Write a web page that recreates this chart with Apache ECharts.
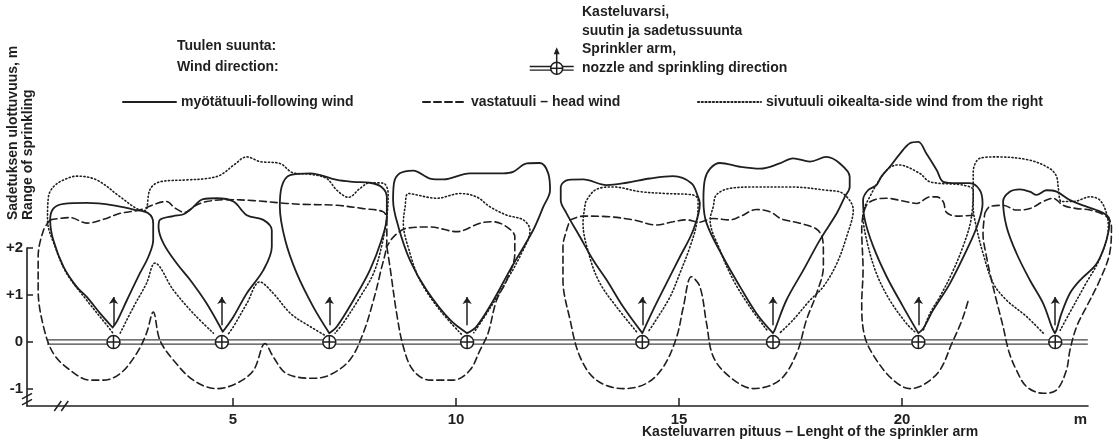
<!DOCTYPE html>
<html>
<head>
<meta charset="utf-8">
<script src="https://cdn.jsdelivr.net/npm/echarts@6/dist/echarts.min.js"></script>
<style>
  html, body { margin: 0; padding: 0; background: #fff; }
  #chart { width: 1119px; height: 447px; }
</style>
</head>
<body>
<div id="chart"></div>
<script>
// Sprinkler nozzle positions along the arm (m)
const nozzles = [2.32, 4.75, 7.16, 10.25, 14.18, 17.11, 20.37, 23.44];
// Sprinkling direction arrow above each nozzle (from, to) in m
const arrowSpan = [0.36, 0.96];
// Sprinkler arm extent (m) and half gap between its two rails
const armStart = 0.83, armEnd = 24.17, armRail = 0.045;

// Axis tick values
const xTicks = [5, 10, 15, 20];
const yTicks = [-1, 0, 1, 2];

// Following wind — range outline of each nozzle [x m, y m]
const following1 = [[2.30,0.31],[2.02,0.61],[1.72,0.96],[1.49,1.18],[1.20,1.60],[0.97,2.17],[0.90,2.60],[0.97,2.84],[1.20,2.94],[1.72,2.96],[2.32,2.91],[2.77,2.82],[3.10,2.74],[3.21,2.53],[3.21,2.17],[3.10,1.81],[2.91,1.46],[2.62,0.89],[2.39,0.43],[2.30,0.31]];
const following2 = [[4.77,0.22],[4.41,0.82],[4.04,1.32],[3.74,1.67],[3.44,2.10],[3.33,2.45],[3.36,2.60],[3.66,2.68],[3.89,2.72],[4.07,2.84],[4.33,3.04],[4.63,3.06],[5.01,2.99],[5.31,2.70],[5.68,2.60],[5.87,2.38],[5.87,2.03],[5.68,1.53],[5.31,1.04],[5.01,0.54],[4.77,0.22]];
const following3 = [[7.16,0.19],[6.80,0.75],[6.43,1.46],[6.17,2.17],[6.05,2.88],[6.09,3.30],[6.28,3.55],[6.73,3.59],[7.33,3.45],[7.70,3.41],[8.07,3.39],[8.33,3.30],[8.45,3.09],[8.45,2.67],[8.33,2.17],[8.07,1.53],[7.70,0.89],[7.33,0.33],[7.16,0.19]];
const following4 = [[10.25,0.19],[9.87,0.47],[9.34,1.11],[8.97,1.74],[8.71,2.45],[8.59,3.02],[8.61,3.38],[8.74,3.59],[9.04,3.65],[9.42,3.48],[9.72,3.46],[10.31,3.59],[11.06,3.59],[11.28,3.62],[11.59,3.80],[11.88,3.81],[12.07,3.59],[12.11,3.23],[11.96,2.88],[11.73,2.38],[11.21,1.53],[10.84,0.89],[10.46,0.33],[10.25,0.19]];
const following5 = [[14.18,0.19],[13.75,0.75],[13.38,1.32],[13.08,1.74],[12.78,2.24],[12.48,2.74],[12.35,3.02],[12.35,3.30],[12.52,3.45],[12.85,3.46],[13.38,3.34],[13.83,3.39],[14.35,3.48],[14.87,3.53],[15.28,3.38],[15.43,3.09],[15.47,2.95],[15.32,2.38],[15.02,1.81],[14.72,1.25],[14.42,0.68],[14.18,0.19]];
const following6 = [[17.11,0.19],[16.74,0.61],[16.37,1.18],[15.99,1.81],[15.62,2.53],[15.55,3.02],[15.58,3.45],[15.70,3.69],[15.92,3.81],[16.37,3.73],[16.82,3.69],[17.26,3.80],[17.56,3.91],[17.94,3.84],[18.31,3.94],[18.61,3.80],[18.83,3.52],[18.83,3.30],[18.72,3.09],[18.54,2.74],[18.16,2.17],[17.79,1.53],[17.41,0.89],[17.15,0.26],[17.11,0.19]];
const following7 = [[20.37,0.19],[20.03,0.75],[19.66,1.39],[19.36,2.03],[19.17,2.60],[19.13,3.02],[19.24,3.23],[19.43,3.34],[19.54,3.52],[19.73,3.73],[19.96,4.01],[20.18,4.23],[20.37,4.26],[20.55,4.01],[20.78,3.66],[20.93,3.41],[21.23,3.38],[21.52,3.38],[21.75,3.23],[21.81,2.95],[21.71,2.53],[21.50,2.05],[21.08,1.25],[20.70,0.68],[20.48,0.29],[20.37,0.19]];
const following8 = [[23.43,0.19],[23.36,0.33],[23.17,0.82],[22.87,1.32],[22.57,1.89],[22.35,2.45],[22.27,2.99],[22.42,3.20],[22.65,3.25],[22.87,3.20],[23.02,3.13],[23.24,3.23],[23.47,3.20],[23.77,3.02],[24.06,2.91],[24.36,2.81],[24.59,2.70],[24.66,2.60],[24.59,2.17],[24.37,1.67],[24.00,1.32],[23.77,1.04],[23.58,0.61],[23.47,0.26],[23.43,0.19]];

// Head wind — range outlines [x m, y m]
const headA = [[0.90,2.60],[1.35,2.65],[1.72,2.53],[2.09,2.61],[2.47,2.74],[2.91,2.81],[3.29,2.95],[3.51,2.99],[3.70,2.85],[3.92,2.76],[4.15,2.90],[4.41,2.99],[4.86,3.03],[5.46,3.01],[6.20,2.95],[6.58,2.93],[7.33,2.91],[7.92,2.84],[8.37,2.77],[8.45,2.60],[8.45,2.17],[8.30,1.46],[8.15,0.89],[7.92,0.19],[7.62,-0.38],[7.17,-0.70],[6.80,-0.77],[6.20,-0.67],[5.90,-0.31],[5.72,-0.03],[5.46,-0.60],[5.08,-0.88],[4.63,-0.99],[4.11,-0.81],[3.66,-0.38],[3.36,0.04],[3.21,0.64],[3.06,0.19],[2.84,-0.24],[2.47,-0.67],[2.09,-0.81],[1.79,-0.81],[1.35,-0.60],[0.97,-0.24],[0.75,0.33],[0.63,1.11],[0.63,1.81],[0.75,2.38],[0.90,2.60]];
const headB = [[8.45,2.03],[8.52,1.60],[8.67,0.61],[8.82,-0.10],[9.04,-0.60],[9.42,-0.81],[9.94,-0.81],[10.31,-0.60],[10.54,-0.17],[10.72,0.19],[10.91,0.89],[11.14,1.32],[11.32,1.89],[11.32,2.24],[11.14,2.45],[10.84,2.56],[10.54,2.53],[10.02,2.35],[9.42,2.45],[8.89,2.42],[8.60,2.24],[8.45,2.03]];
const headC = [[12.56,2.60],[12.85,2.68],[13.38,2.67],[13.98,2.60],[14.50,2.49],[14.87,2.56],[15.17,2.60],[15.45,2.55],[15.77,2.63],[16.14,2.60],[16.37,2.67],[16.74,2.82],[17.05,2.77],[17.30,2.62],[17.71,2.53],[18.09,2.40],[18.22,2.20],[18.24,1.89],[18.24,1.60],[18.09,1.04],[17.86,0.47],[17.64,-0.24],[17.26,-0.81],[16.67,-0.99],[16.14,-0.74],[15.77,-0.31],[15.62,0.40],[15.47,1.18],[15.28,1.39],[15.10,0.75],[14.95,0.11],[14.65,-0.53],[14.27,-0.88],[13.75,-0.99],[13.15,-0.81],[12.78,-0.31],[12.56,0.47],[12.40,1.32],[12.40,2.03],[12.48,2.38],[12.56,2.60]];
const headD = [[21.60,2.70],[21.23,2.68],[21.00,2.76],[20.93,2.98],[20.78,3.09],[20.63,3.09],[20.33,2.95],[20.03,3.00],[19.66,3.06],[19.43,3.04],[19.20,2.90],[19.10,2.38],[19.13,1.53],[19.10,0.82],[19.17,0.11],[19.43,-0.38],[19.81,-0.81],[20.18,-0.99],[20.48,-0.91],[20.85,-0.60],[21.12,-0.03],[21.35,0.47],[21.49,0.89]];
const headE = [[21.86,2.74],[21.97,2.88],[22.27,2.91],[22.57,2.81],[22.87,2.84],[23.17,2.99],[23.39,3.06],[23.62,2.91],[23.92,2.84],[24.22,2.81],[24.59,2.67],[24.70,2.45],[24.66,1.89],[24.44,1.32],[24.14,0.75],[23.92,0.33],[23.77,-0.17],[23.69,-0.60],[23.47,-1.02],[23.17,-1.09],[22.80,-0.95],[22.57,-0.60],[22.40,-0.20],[22.27,0.33],[22.12,0.89],[22.01,1.32],[21.90,1.81],[21.82,2.31],[21.86,2.74]];

// Side wind from the right — range outlines [x m, y m]
const sideA = [[2.30,0.20],[2.17,0.36],[1.72,0.89],[1.27,1.46],[1.01,2.03],[0.84,2.60],[0.86,3.09],[0.97,3.30],[1.20,3.45],[1.50,3.53],[1.94,3.45],[2.47,3.09],[2.84,2.84],[3.03,2.80],[3.14,3.25],[3.36,3.41],[3.96,3.45],[4.41,3.48],[4.71,3.55],[5.01,3.76],[5.31,3.94],[5.61,3.84],[6.05,3.80],[6.35,3.60],[6.73,3.57],[7.10,3.48],[7.33,3.23],[7.59,3.08],[7.85,3.27],[8.07,3.39],[8.37,3.38],[8.48,3.16],[8.45,2.67],[8.33,2.03],[8.15,1.46],[7.85,0.96],[7.47,0.40],[7.29,0.19]];
const sideB = [[2.47,0.19],[2.77,0.75],[3.06,1.25],[3.25,1.68],[3.66,1.11],[4.11,0.61],[4.56,0.19]];
const sideC = [[4.90,0.18],[5.01,0.33],[5.31,0.82],[5.60,1.28],[5.90,1.04],[6.30,0.60],[6.73,0.33],[7.05,0.15]];
const sideD = [[10.12,0.17],[9.64,0.68],[9.19,1.32],[8.95,1.95],[8.82,2.53],[8.86,2.88],[8.93,3.16],[9.57,3.06],[10.09,3.16],[10.46,3.09],[10.76,2.88],[11.14,2.70],[11.51,2.60],[11.66,2.38],[11.45,1.85],[11.10,1.25],[10.75,0.70],[10.40,0.20]];
const sideE = [[14.05,0.22],[13.60,0.75],[13.23,1.25],[13.00,1.81],[12.85,2.53],[12.89,2.88],[12.93,3.02],[13.15,3.25],[13.53,3.30],[14.13,3.20],[14.72,3.16],[15.32,3.13],[15.43,3.02],[15.40,2.53],[15.25,2.03],[15.02,1.46],[14.80,0.96],[14.46,0.43],[14.31,0.22]];
const sideF = [[16.97,0.26],[16.59,0.75],[16.22,1.32],[15.92,1.96],[15.70,2.60],[15.77,2.88],[15.84,3.13],[16.14,3.27],[16.74,3.30],[17.49,3.30],[18.31,3.23],[18.68,3.16],[18.91,2.81],[18.76,2.24],[18.54,1.67],[18.24,1.18],[17.94,0.89],[17.56,0.47],[17.26,0.19]];
const sideG = [[20.29,0.22],[20.10,0.40],[19.73,0.89],[19.43,1.46],[19.21,2.17],[19.13,2.70],[19.28,3.09],[19.66,3.66],[19.92,3.77],[20.40,3.59],[20.63,3.41],[21.37,3.34],[21.60,3.23],[21.55,2.60],[21.37,2.03],[21.12,1.46],[20.85,0.96],[20.63,0.61],[20.48,0.25]];
const sideH = [[23.17,0.19],[22.80,0.54],[22.35,0.89],[22.05,1.25],[21.82,1.89],[21.67,2.45],[21.60,2.88],[21.60,3.62],[21.75,3.91],[22.12,3.94],[22.87,3.87],[23.32,3.69],[23.47,3.52],[23.51,3.27],[23.58,2.99],[23.84,2.99],[24.22,3.09],[24.44,3.02],[24.59,2.74],[24.63,2.45],[24.45,1.80],[24.10,1.20],[23.75,0.60],[23.55,0.25]];

const followingWind = [following1, following2, following3, following4, following5, following6, following7, following8];
const headWind = [headA, headB, headC, headD, headE];
const sideWind = [sideA, sideB, sideC, sideD, sideE, sideF, sideG, sideH];

const NAME_FOLLOW = 'myötätuuli-following wind';
const NAME_HEAD = 'vastatuuli – head wind';
const NAME_SIDE = 'sivutuuli oikealta-side wind from the right';

const INK = '#1f1f1f';
const FAMILY = '"Liberation Sans", Arial, sans-serif';
const FONT = 'bold 14px ' + FAMILY;

// Shared scale: 44.6 px per metre across, 47 px per metre up
const X_MIN = 0.38, X_MAX_DATA = 24.78, X_MAX_AXIS = 24.17;
const Y_MIN = -1.36, Y_MAX_DATA = 4.725, Y_MAX_AXIS = 2;

const chart = echarts.init(document.getElementById('chart'), null, { renderer: 'canvas' });

function outline(name, data, dash, width) {
  return {
    type: 'line', name, data,
    xAxisIndex: 0, yAxisIndex: 0,
    smooth: 0.35, symbol: 'none', showSymbol: false, silent: true,
    lineStyle: { color: INK, width, type: dash, cap: 'round' },
    itemStyle: { color: INK },
    z: 3
  };
}

const series = [];
followingWind.forEach(d => series.push(outline(NAME_FOLLOW, d, 'solid', 1.8)));
headWind.forEach(d => series.push(outline(NAME_HEAD, d, [7, 4], 1.6)));
sideWind.forEach(d => series.push(outline(NAME_SIDE, d, [1.2, 2.5], 1.6)));

// Sprinkler arm: two parallel rails
[armRail, -armRail].forEach(off => series.push({
  type: 'line', name: 'arm', silent: true, symbol: 'none', showSymbol: false,
  xAxisIndex: 0, yAxisIndex: 0,
  data: [[armStart, off], [armEnd, off]],
  lineStyle: { color: '#444', width: 1.3 }, z: 2
}));

// Sprinkling direction arrows
series.push({
  type: 'lines', coordinateSystem: 'cartesian2d', xAxisIndex: 0, yAxisIndex: 0,
  silent: true, symbol: ['none', 'arrow'], symbolSize: [0, 7],
  lineStyle: { color: INK, width: 1.5, opacity: 1, curveness: 0 },
  data: nozzles.map(x => ({ coords: [[x, arrowSpan[0]], [x, arrowSpan[1]]] })),
  z: 4
});

// Nozzles: circle with a cross
series.push({
  type: 'scatter', xAxisIndex: 0, yAxisIndex: 0, silent: true,
  symbol: 'path://M10,0 A10,10 0 1,1 10,20 A10,10 0 1,1 10,0 Z M10,0 L10,20 M0,10 L20,10',
  symbolSize: 13,
  itemStyle: { color: '#fff', borderColor: INK, borderWidth: 1.5, opacity: 1 },
  data: nozzles.map(x => [x, 0]),
  z: 6
});

const legendText = { color: INK, fontWeight: 'bold', fontSize: 14, fontFamily: FAMILY };
const legendBase = {
  orient: 'horizontal', top: 95, itemHeight: 14, padding: 0, selectedMode: false,
  textStyle: legendText,
  itemStyle: { opacity: 0, borderWidth: 0 }
};

const option = {
  animation: false,
  backgroundColor: '#fff',
  legend: [
    Object.assign({ data: [NAME_FOLLOW], left: 122, itemWidth: 53 }, legendBase),
    Object.assign({ data: [NAME_HEAD], left: 422, itemWidth: 43 }, legendBase),
    Object.assign({ data: [NAME_SIDE], left: 697, itemWidth: 63 }, legendBase)
  ],
  grid: [
    { left: 27, right: 4, top: 120, bottom: 41, outerBoundsMode: 'none', containLabel: false },
    { left: 27, right: 31, top: 248.08, bottom: 41, outerBoundsMode: 'none', containLabel: false }
  ],
  xAxis: [
    { gridIndex: 0, type: 'value', min: X_MIN, max: X_MAX_DATA, show: false },
    {
      gridIndex: 1, type: 'value', min: X_MIN, max: X_MAX_AXIS,
      axisLine: { show: true, onZero: false, lineStyle: { color: INK, width: 1.6 } },
      axisTick: { show: true, inside: true, length: 8, customValues: xTicks, lineStyle: { color: INK, width: 1.5 } },
      axisLabel: {
        show: true, margin: 6, customValues: xTicks.concat([24]),
        formatter: v => (v === 24 ? 'm' : String(v)),
        color: INK, fontWeight: 'bold', fontSize: 15, fontFamily: FAMILY
      },
      splitLine: { show: false }
    }
  ],
  yAxis: [
    { gridIndex: 0, type: 'value', min: Y_MIN, max: Y_MAX_DATA, show: false },
    {
      gridIndex: 1, type: 'value', min: Y_MIN, max: Y_MAX_AXIS,
      axisLine: { show: true, onZero: false, lineStyle: { color: INK, width: 1.6 } },
      axisTick: { show: true, inside: true, length: 6, customValues: yTicks, lineStyle: { color: INK, width: 1.5 } },
      axisLabel: {
        show: true, margin: 4, customValues: yTicks,
        formatter: v => (v > 0 ? '+' + v : String(v)),
        color: INK, fontWeight: 'bold', fontSize: 15, fontFamily: FAMILY
      },
      splitLine: { show: false }
    }
  ],
  series
};

chart.setOption(option);

// Decorations placed from axis values
const px = (x, y) => chart.convertToPixel({ gridIndex: 1 }, [x, y]);
const yBreak = px(X_MIN, -1.22);
const xBreak = px(1.17, Y_MIN);
const stroke = { stroke: INK, lineWidth: 1.5 };

const graphics = [];
function text(t, left, top) {
  graphics.push({ type: 'text', left, top, silent: true, style: { text: t, font: FONT, fill: INK } });
}
text('Tuulen suunta:', 177, 39);
text('Wind direction:', 177, 60);
text('Kasteluvarsi,', 582, 5);
text('suutin ja sadetussuunta', 582, 24);
text('Sprinkler arm,', 582, 42);
text('nozzle and sprinkling direction', 582, 61);
text('Kasteluvarren pituus – Lenght of the sprinkler arm', 642, 425);

// Rotated axis titles
[['Sadetuksen ulottuvuus, m', 13], ['Range of sprinkling', 28]].forEach(([t, x]) => {
  graphics.push({
    type: 'text', x, y: 220, rotation: Math.PI / 2, silent: true,
    style: { text: t, font: FONT, fill: INK, align: 'left', verticalAlign: 'middle' }
  });
});

// Axis break on the vertical axis
graphics.push({ type: 'rect', silent: true, shape: { x: yBreak[0] - 3, y: yBreak[1] - 3, width: 6, height: 6 }, style: { fill: '#fff' } });
graphics.push({ type: 'line', silent: true, shape: { x1: yBreak[0] - 5, y1: yBreak[1] - 0.5, x2: yBreak[0] + 5, y2: yBreak[1] - 6 }, style: stroke });
graphics.push({ type: 'line', silent: true, shape: { x1: yBreak[0] - 5, y1: yBreak[1] + 5.5, x2: yBreak[0] + 5, y2: yBreak[1] } , style: stroke });
// Axis break on the horizontal axis
graphics.push({ type: 'line', silent: true, shape: { x1: xBreak[0] - 8, y1: xBreak[1] + 5, x2: xBreak[0] - 1, y2: xBreak[1] - 5 }, style: stroke });
graphics.push({ type: 'line', silent: true, shape: { x1: xBreak[0] - 1, y1: xBreak[1] + 5, x2: xBreak[0] + 6, y2: xBreak[1] - 5 }, style: stroke });

// Key glyph: arm rails, nozzle and direction arrow
const gx = 556.7, gy = 68.3;
[-1.8, 1.8].forEach(d => {
  graphics.push({ type: 'line', silent: true, shape: { x1: gx - 27, y1: gy + d, x2: gx + 17, y2: gy + d }, style: { stroke: INK, lineWidth: 1.3 } });
});
graphics.push({ type: 'circle', silent: true, shape: { cx: gx, cy: gy, r: 6 }, style: { fill: '#fff', stroke: INK, lineWidth: 1.5 } });
graphics.push({ type: 'line', silent: true, shape: { x1: gx, y1: gy - 6, x2: gx, y2: gy + 6 }, style: stroke });
graphics.push({ type: 'line', silent: true, shape: { x1: gx - 6, y1: gy, x2: gx + 6, y2: gy }, style: stroke });
graphics.push({ type: 'line', silent: true, shape: { x1: gx, y1: gy - 6, x2: gx, y2: gy - 18 }, style: stroke });
graphics.push({ type: 'polygon', silent: true, shape: { points: [[gx, gy - 21], [gx - 3, gy - 14], [gx + 3, gy - 14]] }, style: { fill: INK } });

chart.setOption({ graphic: graphics });
</script>
</body>
</html>
